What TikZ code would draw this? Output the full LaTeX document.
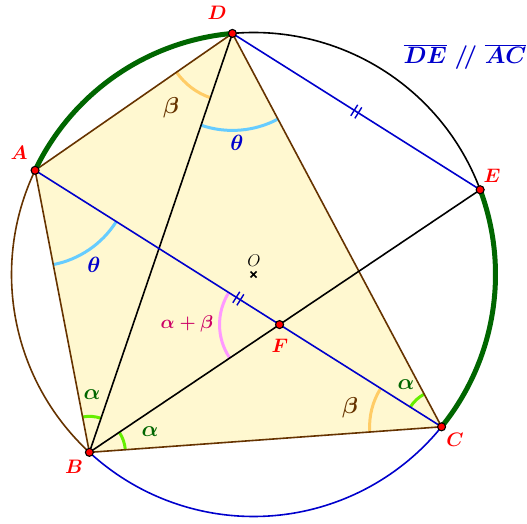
\RequirePackage{fix-cm}
\documentclass[tikz,border=0pt]{standalone}
\usetikzlibrary{calc,angles,decorations.markings}
\definecolor{brn}{RGB}{102,51,0}
\definecolor{dgreen}{RGB}{0,102,0}
\definecolor{lgreen}{RGB}{102,238,0}
\definecolor{lblue}{RGB}{102,204,255}
\definecolor{orng}{RGB}{255,204,102}
\definecolor{pinkarc}{RGB}{255,153,255}
\definecolor{mag}{RGB}{204,0,102}
\definecolor{dblue}{RGB}{0,0,204}
\definecolor{fillyel}{RGB}{255,248,208}
\begin{document}
\begin{tikzpicture}[x=1pt,y=1pt,
  ptlabel/.style={text=red,font=\fontsize{19.5}{22}\selectfont\boldmath},
  anglab/.style={font=\fontsize{22}{25}\selectfont\boldmath},
  betalab/.style={font=\fontsize{23}{26}\selectfont\boldmath,text=brn},
  vdot/.style={circle,draw=black,fill=red,line width=1.1pt,inner sep=0pt,minimum size=8pt},
  seg/.style={line width=1.6pt},
  angarc/.style={line width=3pt},
  ticks/.style={postaction={decorate},decoration={markings,mark=at position 0.5 with {\draw[line width=1.4pt] (-2.4,-6.5)--(-2.4,6.5) (2.4,-6.5)--(2.4,6.5);}}}
]
\useasboundingbox (0,0) rectangle (527,523);
\coordinate (O) at (253.5,248.5);
\coordinate (D) at ($(O)+(95:242)$);
\coordinate (A) at ($(O)+(154.5:242)$);
\coordinate (B) at ($(O)+(227.3:242)$);
\coordinate (C) at ($(O)+(321:242)$);
\coordinate (E) at ($(O)+(20.5:242)$);
\coordinate (F) at (intersection of A--C and B--E);

% quadrilateral fill
\fill[fillyel] (A) -- (B) -- (C) -- (D) -- cycle;

% angle marks
\pic[draw=orng,angarc,angle radius=68pt] {angle = A--D--B};
\pic[draw=lblue,angarc,angle radius=97pt] {angle = B--D--C};
\pic[draw=lblue,angarc,angle radius=96pt] {angle = B--A--C};
\pic[draw=pinkarc,angarc,angle radius=60pt] {angle = A--F--B};
\pic[draw=lgreen,angarc,angle radius=36pt] {angle = D--B--A};
\pic[draw=lgreen,angarc,angle radius=36pt] {angle = C--B--E};
\pic[draw=lgreen,angarc,angle radius=37pt] {angle = D--C--A};
\pic[draw=orng,angarc,angle radius=72pt] {angle = A--C--B};

% quadrilateral edges
\draw[brn,seg] (A) -- (B) -- (C) -- (D) -- cycle;

% other segments
\draw[black,seg] (B) -- (D);
\draw[black,seg] (B) -- (E);
\draw[dblue,seg,ticks] (A) -- (C);
\draw[dblue,seg,ticks] (D) -- (E);

% circle arcs
\draw[dgreen,line width=5pt] (A) arc[start angle=154.5,end angle=95,radius=242pt];
\draw[dgreen,line width=5pt] (E) arc[start angle=20.5,end angle=-39,radius=242pt];
\draw[black,seg] (D) arc[start angle=95,end angle=20.5,radius=242pt];
\draw[brn,seg] (A) arc[start angle=154.5,end angle=227.3,radius=242pt];
\draw[dblue,seg] (B) arc[start angle=227.3,end angle=321,radius=242pt];

% center
\draw[line width=1.6pt] ($(O)+(-3,-3)$) -- ($(O)+(3,3)$) ($(O)+(-3,3)$) -- ($(O)+(3,-3)$);
\node[font=\fontsize{17}{20}\selectfont] (lO) at (254,262) {$O$};

% vertex dots
\node[vdot] (dA) at (A) {};
\node[vdot] (dB) at (B) {};
\node[vdot] (dC) at (C) {};
\node[vdot] (dD) at (D) {};
\node[vdot] (dE) at (E) {};
\node[vdot] (dF) at (F) {};

% point labels
\node[ptlabel] (lD) at (217,510) {$D$};
\node[ptlabel] (lA) at (19,370) {$A$};
\node[ptlabel] (lB) at (74,56) {$B$};
\node[ptlabel] (lC) at (455,83) {$C$};
\node[ptlabel] (lE) at (492,347) {$E$};
\node[ptlabel] (lF) at (280,177) {$F$};

% angle labels
\node[betalab] (b1) at (171,415) {$\beta$};
\node[anglab,text=dblue] (t1) at (237,380) {$\theta$};
\node[anglab,text=dblue] (t2) at (94,258) {$\theta$};
\node[font=\fontsize{18.5}{21}\selectfont\boldmath,text=mag] (ab) at (187,199) {$\alpha+\beta$};
\node[anglab,text=dgreen] (a1) at (92,128) {$\alpha$};
\node[anglab,text=dgreen] (a2) at (150,91) {$\alpha$};
\node[betalab] (b2) at (350,115) {$\beta$};
\node[anglab,text=dgreen] (a3) at (406,138) {$\alpha$};

% parallel statement
\node[font=\fontsize{23.7}{27}\selectfont\boldmath,text=dblue] (par) at (465,466) {$\overline{DE}\;/\!/\;\overline{AC}$};
\end{tikzpicture}
\end{document}
